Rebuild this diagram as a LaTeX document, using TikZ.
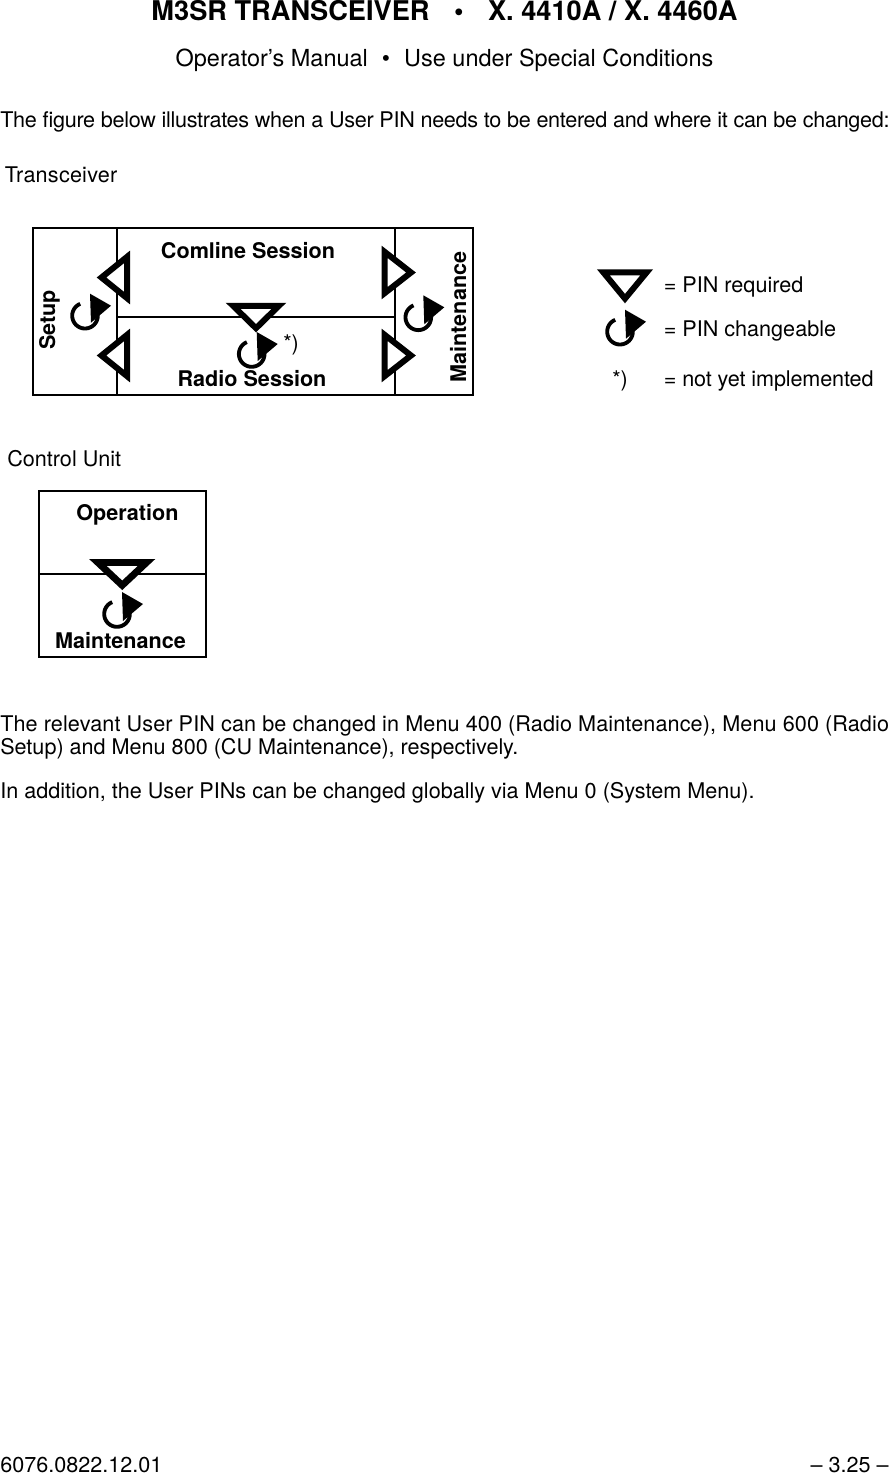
\documentclass[tikz,border=0pt]{standalone}
\usepackage{fontspec}
\setmainfont{TeX Gyre Heros}
\usetikzlibrary{positioning}
\tikzset{
  pinchange/.pic={
    \draw[line width=2.9pt] plot[domain=248:-18,samples=40,smooth] ({12.8*cos(\x)},{12.8*sin(\x)});
    \fill (5,-22) -- (26,-10) -- (6,7) -- cycle;
  },
}

\begin{document}
\begin{tikzpicture}[
  x=0.75pt,y=-0.75pt,
  txt/.style={anchor=base west,inner sep=0pt,font=\fontsize{16.2pt}{20pt}\selectfont},
  lbl/.style={inner sep=0pt,font=\fontsize{16.2pt}{20pt}\selectfont\bfseries},
  frame/.style={line width=1.5pt},
  pinreq/.style={draw,fill=white,line width=4.5pt,miter limit=10},
]
  \useasboundingbox (0,0) rectangle (890,1474);

  \node[inner sep=0pt,anchor=base,font=\fontsize{20.4pt}{22pt}\selectfont\bfseries] (title) at (444.5,20)
    {M3SR TRANSCEIVER\hspace{0.9em}•\hspace{0.9em}X. 4410A / X. 4460A};
  \node[inner sep=0pt,anchor=base,font=\fontsize{17.6pt}{20pt}\selectfont] (subtitle) at (444.5,66)
    {Operator’s Manual\hspace{0.6em}•\hspace{0.6em}Use under Special Conditions};
  \node[txt] (intro) at (0,127) {\addfontfeature{LetterSpace=-1.4}The figure below illustrates when a User PIN needs to be entered and where it can be changed:};
  \node[txt] (trx) at (4.5,182) {\addfontfeature{LetterSpace=1}Transceiver};

  \draw[frame] (32.7,228.3) rectangle (473.3,394.7);
  \draw[frame] (116.7,228.3) -- (116.7,394.7);
  \draw[frame] (395,228.3) -- (395,394.7);
  \draw[frame] (116.7,316.7) -- (395,316.7);

  \node[lbl,anchor=base] (comline) at (248,258) {Comline Session};
  \node[lbl,anchor=base] (radio) at (252,386) {Radio Session};
  \node[lbl,anchor=base,rotate=90] (setup) at (55,320) {Setup};
  \node[lbl,anchor=base,rotate=90] (mnt) at (466,317) {Maintenance};

  \draw[pinreq] (101.5,277.5) -- (127,256.9) -- (127,298.1) -- cycle;
  \draw[pinreq] (101.5,355.5) -- (127,334.9) -- (127,376.1) -- cycle;
  \draw[pinreq] (411,272.5) -- (384.7,251.9) -- (384.7,293.1) -- cycle;
  \draw[pinreq] (411,355.5) -- (384.7,334.9) -- (384.7,376.1) -- cycle;
  \draw[pinreq] (256,328.2) -- (233.1,305.8) -- (278.9,305.8) -- cycle;

  \pic at (85,315.7) {pinchange};
  \pic at (418.3,317.3) {pinchange};
  \pic at (251.7,354) {pinchange};
  \node[txt] (star) at (283,350) {*)};

  \draw[pinreq] (625,298.6) -- (603.3,272.3) -- (646.7,272.3) -- cycle;
  \pic at (620,331.7) {pinchange};
  \node[txt] (req) at (663.5,292) {= PIN required};
  \node[txt] (chg) at (663.5,336) {= PIN changeable};
  \node[txt] (note) at (612,386) {*)};
  \node[txt] (impl) at (663.5,386) {\addfontfeature{LetterSpace=-0.6}= not yet implemented};

  \node[txt] (cu) at (7,466) {Control Unit};
  \draw[frame] (39,490.7) rectangle (206,656.7);
  \draw[frame] (39,574) -- (206,574);
  \node[lbl,anchor=base] (oper) at (127.5,520) {Operation};
  \node[lbl,anchor=base] (cumnt) at (120.5,648) {Maintenance};
  \draw[pinreq,line width=5.2pt] (122.2,585.3) -- (97.9,562.5) -- (146.5,562.5) -- cycle;
  \pic at (117,614) {pinchange};

  \node[txt] (para1) at (0,731) {\addfontfeature{LetterSpace=0.55}The relevant User PIN can be changed in Menu 400 (Radio Maintenance), Menu 600 (Radio};
  \node[txt] (para2) at (0,754) {Setup) and Menu 800 (CU Maintenance), respectively.};
  \node[txt] (para3) at (0,798) {In addition, the User PINs can be changed globally via Menu 0 (System Menu).};

  \node[txt] (doc) at (0,1472) {6076.0822.12.01};
  \node[txt,anchor=base east] (page) at (889,1472) {– 3.25 –};
\end{tikzpicture}
\end{document}
